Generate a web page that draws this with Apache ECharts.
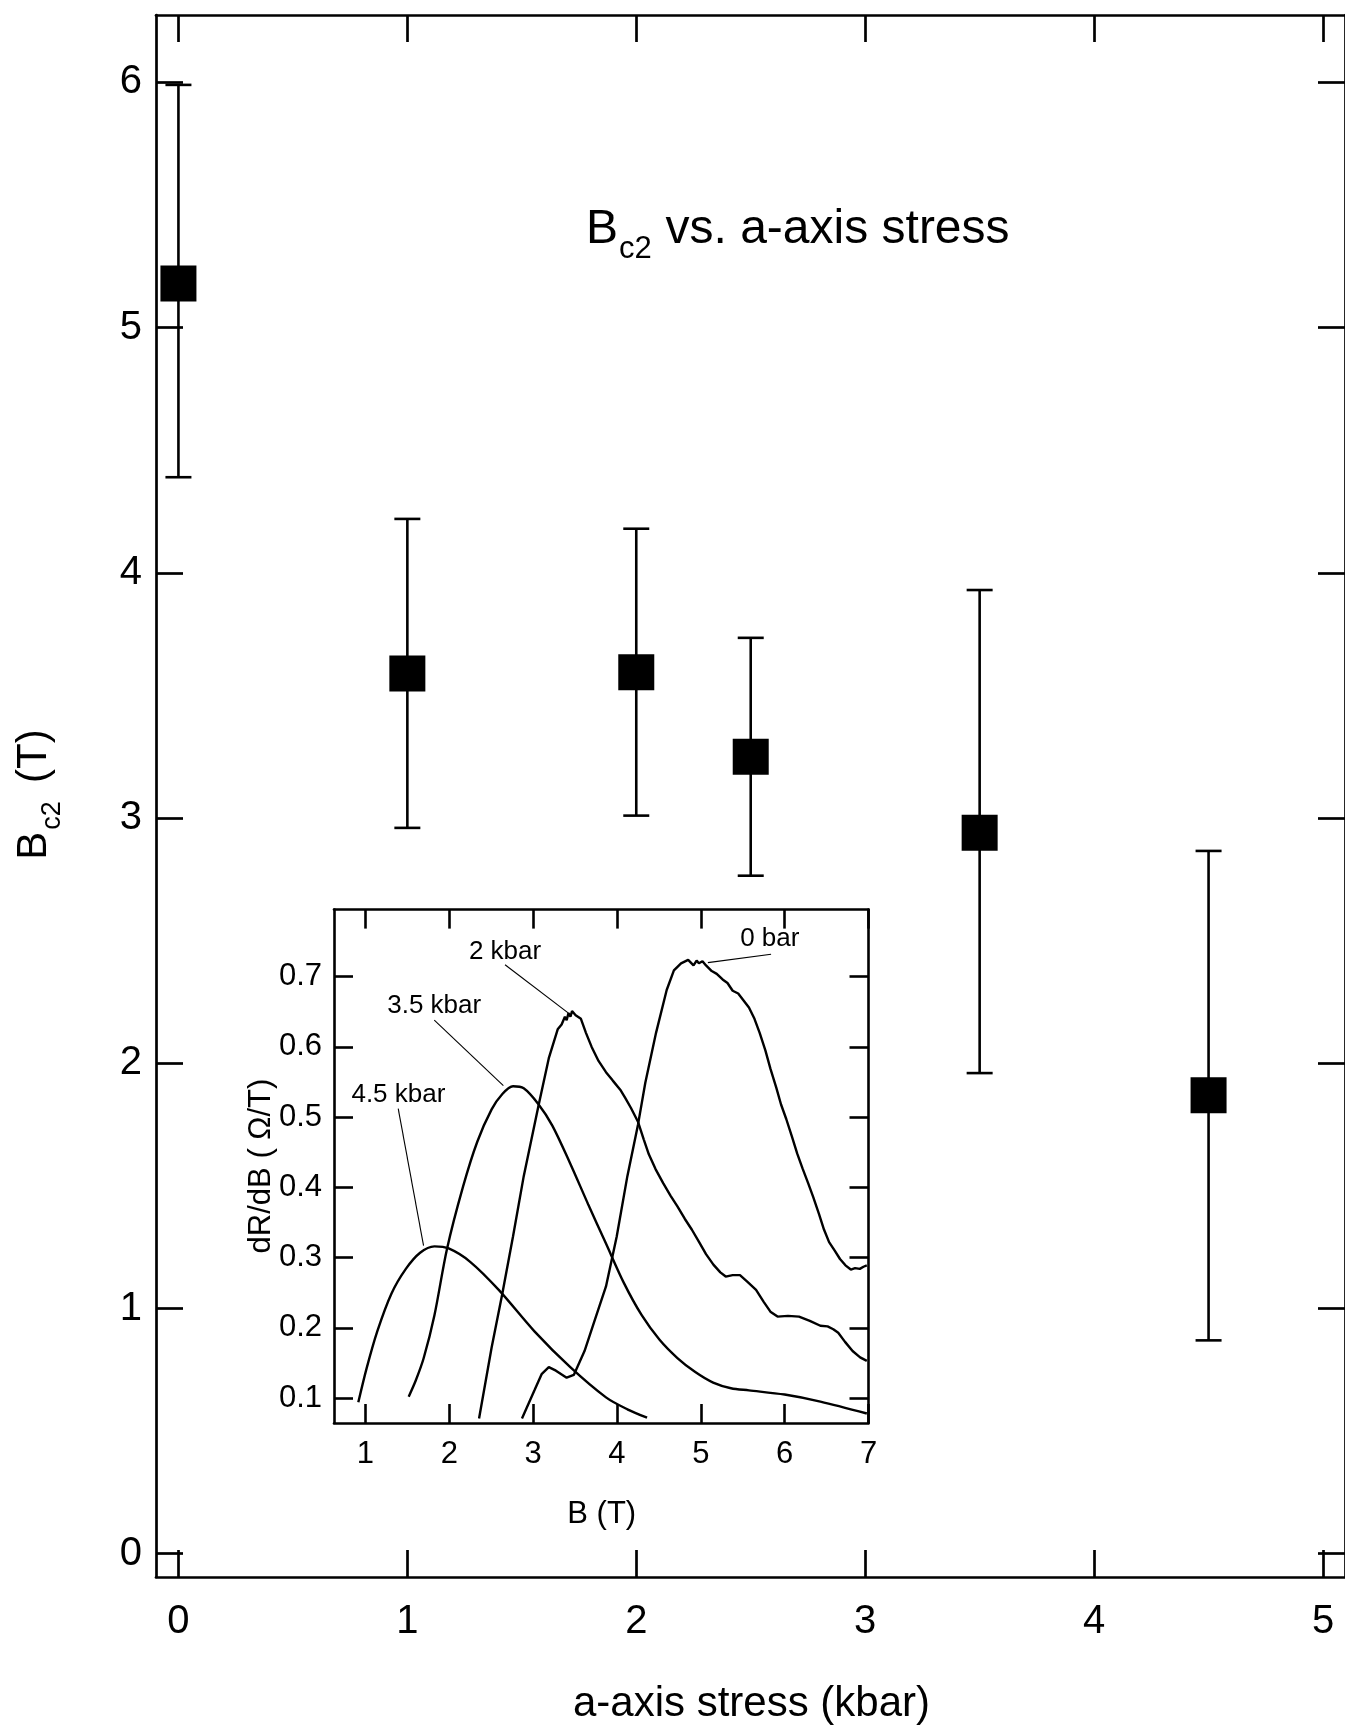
<!DOCTYPE html>
<html><head><meta charset="utf-8">
<script src="https://cdn.jsdelivr.net/npm/echarts@6/dist/echarts.min.js"></script>
<style>html,body{margin:0;padding:0;background:#fff}#c{width:1345px;height:1725px}</style>
</head><body><div id="c"></div>
<script>
// ---- main plot data ----
const stress = [0, 1, 2, 2.5, 3.5, 4.5];
const bc2 = [5.18, 3.59, 3.595, 3.25, 2.94, 1.87];
const bc2Upper = [5.99, 4.22, 4.18, 3.735, 3.93, 2.866];
const bc2Lower = [4.39, 2.96, 3.01, 2.765, 1.96, 0.87];
const mainXTicks = [0, 1, 2, 3, 4, 5];
const mainYTicks = [0, 1, 2, 3, 4, 5, 6];

// ---- inset data: dR/dB vs B ----
const insetXTicks = [1, 2, 3, 4, 5, 6, 7];
const insetYTicks = [0.1, 0.2, 0.3, 0.4, 0.5, 0.6, 0.7];
const curve0bar = [[2.867,0.071],[3.016,0.111],[3.101,0.134],[3.187,0.144],[3.272,0.139],[3.400,0.129],[3.485,0.133],[3.613,0.167],[3.741,0.213],[3.869,0.259],[3.997,0.330],[4.124,0.416],[4.252,0.490],[4.338,0.549],[4.466,0.620],[4.593,0.681],[4.679,0.709],[4.764,0.719],[4.849,0.724],[4.913,0.716],[4.950,0.723],[4.977,0.719],[5.020,0.722],[5.062,0.716],[5.130,0.708],[5.190,0.704],[5.260,0.696],[5.318,0.691],[5.380,0.680],[5.446,0.676],[5.510,0.666],[5.574,0.656],[5.640,0.640],[5.702,0.620],[5.770,0.595],[5.830,0.569],[5.900,0.542],[5.957,0.518],[6.020,0.497],[6.085,0.473],[6.150,0.448],[6.213,0.427],[6.280,0.406],[6.341,0.386],[6.410,0.362],[6.469,0.340],[6.530,0.322],[6.597,0.310],[6.660,0.298],[6.725,0.289],[6.789,0.283],[6.840,0.285],[6.896,0.284],[6.940,0.287],[6.980,0.289]];
const curve2kbar = [[2.355,0.071],[2.505,0.172],[2.633,0.249],[2.760,0.330],[2.888,0.416],[3.067,0.518],[3.187,0.584],[3.293,0.625],[3.340,0.632],[3.379,0.643],[3.400,0.638],[3.421,0.648],[3.445,0.643],[3.464,0.651],[3.507,0.645],[3.570,0.640],[3.630,0.620],[3.698,0.600],[3.780,0.580],[3.869,0.564],[3.950,0.552],[4.039,0.539],[4.100,0.527],[4.167,0.513],[4.252,0.493],[4.320,0.468],[4.380,0.447],[4.460,0.426],[4.551,0.406],[4.640,0.388],[4.721,0.373],[4.810,0.355],[4.892,0.340],[4.980,0.322],[5.062,0.305],[5.150,0.290],[5.233,0.279],[5.297,0.273],[5.380,0.275],[5.467,0.275],[5.560,0.265],[5.659,0.254],[5.750,0.237],[5.830,0.223],[5.915,0.216],[6.040,0.217],[6.171,0.216],[6.300,0.210],[6.426,0.203],[6.512,0.202],[6.580,0.198],[6.639,0.193],[6.720,0.180],[6.810,0.167],[6.900,0.158],[6.980,0.153]];
const curve35kbar = [[1.516,0.102],[1.600,0.125],[1.695,0.157],[1.823,0.218],[1.972,0.312],[2.164,0.401],[2.334,0.465],[2.505,0.511],[2.633,0.533],[2.760,0.544],[2.888,0.541],[3.059,0.519],[3.229,0.488],[3.442,0.434],[3.656,0.376],[3.869,0.320],[4.082,0.264],[4.295,0.218],[4.508,0.183],[4.721,0.157],[4.934,0.137],[5.147,0.122],[5.360,0.114],[5.574,0.111],[6.000,0.105],[6.426,0.095],[6.980,0.078]];
const curve45kbar = [[0.915,0.094],[1.013,0.142],[1.141,0.195],[1.311,0.249],[1.482,0.284],[1.652,0.307],[1.823,0.316],[1.993,0.313],[2.249,0.294],[2.590,0.254],[3.016,0.195],[3.443,0.144],[3.869,0.101],[4.124,0.084],[4.359,0.072]];

// ---- inset annotations ----
const annotationText = ['0 bar', '2 kbar', '3.5 kbar', '4.5 kbar'];
const annotationB = [5.823, 2.665, 1.820, 1.393];
const annotationY = [0.754, 0.736, 0.658, 0.532];
const leader0bar = [[5.838, 0.732], [5.084, 0.720]];
const leader2kbar = [[2.665, 0.717], [3.433, 0.647]];
const leader35kbar = [[1.821, 0.638], [2.645, 0.545]];
const leader45kbar = [[1.391, 0.512], [1.693, 0.317]];

const FONT = "'Liberation Sans', Arial, Helvetica, sans-serif";
const chart = echarts.init(document.getElementById('c'), null, {renderer: 'canvas'});

function axisX(gridIndex, pos, min, max, ticks, tickLen, lw, labelSize, labelMargin, showLabel) {
  return {
    type: 'value', gridIndex: gridIndex, position: pos, min: min, max: max,
    axisLine: {show: true, onZero: false, lineStyle: {color: '#000', width: lw}},
    axisTick: {show: true, inside: true, length: tickLen, customValues: ticks, lineStyle: {color: '#000', width: lw}},
    axisLabel: {show: showLabel, customValues: ticks, fontSize: labelSize, fontFamily: FONT, color: '#000', margin: labelMargin},
    splitLine: {show: false}
  };
}

const errData = stress.map((x, i) => [x, bc2Lower[i], bc2Upper[i]]);
const ptData = stress.map((x, i) => [x, bc2[i]]);
const annData = annotationText.map((t, i) => ({name: t, value: [annotationB[i], annotationY[i]]}));

function curve(data, smooth) {
  return {type: 'line', xAxisIndex: 2, yAxisIndex: 2, data: data, symbol: 'none', smooth: smooth,
    lineStyle: {color: '#000', width: 2.4, opacity: 1}, silent: true, z: 5};
}
function leader(data) {
  return {type: 'line', xAxisIndex: 2, yAxisIndex: 2, data: data, symbol: 'none',
    lineStyle: {color: '#000', width: 1.1, opacity: 1}, silent: true, z: 5};
}

const textStyle = (s) => Object.assign({fontFamily: FONT, fill: '#000', align: 'left', verticalAlign: 'middle', textAlign: 'left', textVerticalAlign: 'middle'}, s);

chart.setOption({
  animation: false,
  backgroundColor: '#fff',
  grid: [
    {left: 156, top: 15, width: 1190, height: 1562},
    {left: 334, top: 909.6, width: 534.5, height: 513.4, show: true, backgroundColor: '#fff', borderWidth: 0, z: 3}
  ],
  xAxis: [
    axisX(0, 'bottom', -0.098, 5.096, mainXTicks, 27, 2.7, 40, 25, true),
    axisX(0, 'top', -0.098, 5.096, mainXTicks, 27, 2.7, 40, 25, false),
    Object.assign(axisX(1, 'bottom', 0.625, 7, insetXTicks, 19, 2.6, 31, 16, true), {z: 6}),
    Object.assign(axisX(1, 'top', 0.625, 7, insetXTicks, 19, 2.6, 31, 16, false), {z: 6})
  ],
  yAxis: [
    axisX(0, 'left', -0.095, 6.275, mainYTicks, 27, 2.7, 40, 14, true),
    axisX(0, 'right', -0.095, 6.275, mainYTicks, 27, 2.7, 40, 14, false),
    Object.assign(axisX(1, 'left', 0.0645, 0.7955, insetYTicks, 19, 2.6, 31, 12, true), {z: 6}),
    Object.assign(axisX(1, 'right', 0.0645, 0.7955, insetYTicks, 19, 2.6, 31, 12, false), {z: 6})
  ],
  series: [
    {
      type: 'custom', xAxisIndex: 0, yAxisIndex: 0, data: errData, encode: {x: 0, y: [1, 2]}, z: 2, silent: true,
      renderItem: function (params, api) {
        const x = api.value(0), lo = api.value(1), hi = api.value(2);
        const pHi = api.coord([x, hi]), pLo = api.coord([x, lo]);
        const cap = 13;
        const st = {stroke: '#000', lineWidth: 2.6};
        return {type: 'group', children: [
          {type: 'line', shape: {x1: pHi[0], y1: pHi[1], x2: pLo[0], y2: pLo[1]}, style: st},
          {type: 'line', shape: {x1: pHi[0] - cap, y1: pHi[1], x2: pHi[0] + cap, y2: pHi[1]}, style: st},
          {type: 'line', shape: {x1: pLo[0] - cap, y1: pLo[1], x2: pLo[0] + cap, y2: pLo[1]}, style: st}
        ]};
      }
    },
    {type: 'scatter', xAxisIndex: 0, yAxisIndex: 0, data: ptData, symbol: 'rect', symbolSize: 36,
      itemStyle: {color: '#000', opacity: 1}, z: 3, silent: true},
    curve(curve0bar, false),
    curve(curve2kbar, false),
    curve(curve35kbar, 0.3),
    curve(curve45kbar, 0.3),
    leader(leader0bar), leader(leader2kbar), leader(leader35kbar), leader(leader45kbar),
    {type: 'scatter', xAxisIndex: 2, yAxisIndex: 2, data: annData, symbolSize: 0, silent: true, z: 6,
      itemStyle: {opacity: 1, color: '#000'},
      label: {show: true, position: 'inside', formatter: '{b}', fontSize: 26, fontFamily: FONT, color: '#000', opacity: 1}}
  ],
  graphic: [
    // main title
    {type: 'text', x: 586, y: 230, z: 10, style: textStyle({text: 'B', fontSize: 48})},
    {type: 'text', x: 619, y: 249.9, z: 10, style: textStyle({text: 'c2', fontSize: 31})},
    {type: 'text', x: 665.5, y: 230, z: 10, style: textStyle({text: 'vs. a-axis stress', fontSize: 48})},
    // x axis title
    {type: 'text', x: 751.5, y: 1704, z: 10, style: textStyle({text: 'a-axis stress (kbar)', fontSize: 42, align: 'center', textAlign: 'center'})},
    // y axis title (rotated)
    {type: 'group', x: 34, y: 859.7, rotation: Math.PI / 2, z: 10, children: [
      {type: 'text', x: 0, y: 0, style: textStyle({text: 'B', fontSize: 42})},
      {type: 'text', x: 30, y: 18.5, style: textStyle({text: 'c2', fontSize: 27})},
      {type: 'text', x: 76.7, y: 0, style: textStyle({text: '(T)', fontSize: 42})}
    ]},
    // inset axis titles
    {type: 'text', x: 601.7, y: 1514.7, z: 10, style: textStyle({text: 'B (T)', fontSize: 31, align: 'center', textAlign: 'center'})},
    {type: 'text', x: 261.5, y: 1166, rotation: Math.PI / 2, z: 10, style: textStyle({text: 'dR/dB ( \u03A9/T)', fontSize: 31, align: 'center', textAlign: 'center'})}
  ]
});
</script>
</body></html>
